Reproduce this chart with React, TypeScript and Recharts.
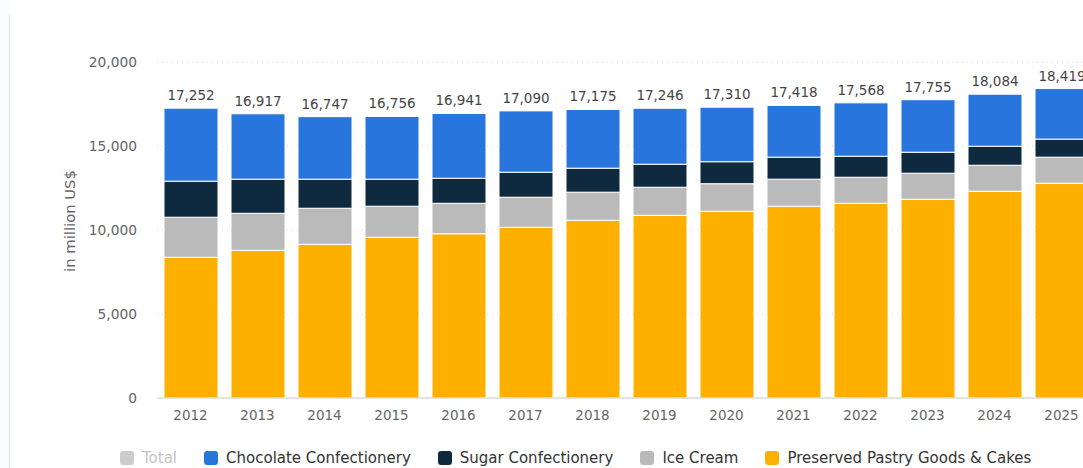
import React from "react";
import { BarChart, Bar, XAxis, YAxis, CartesianGrid, LabelList } from "recharts";

const years = ["2012", "2013", "2014", "2015", "2016", "2017", "2018", "2019", "2020", "2021", "2022", "2023", "2024", "2025"];
const totals = [17252, 16917, 16747, 16756, 16941, 17090, 17175, 17246, 17310, 17418, 17568, 17755, 18084, 18419];
const pastry = [8375, 8790, 9150, 9565, 9775, 10160, 10580, 10875, 11115, 11415, 11590, 11830, 12305, 12785];
const iceCream = [2385, 2205, 2145, 1850, 1815, 1790, 1670, 1670, 1640, 1610, 1550, 1550, 1550, 1550];
const sugar = [2145, 2030, 1730, 1610, 1490, 1490, 1430, 1370, 1310, 1310, 1250, 1250, 1130, 1075];
const chocolate = totals.map((t, i) => t - pastry[i] - iceCream[i] - sugar[i]);
const yTicks = [0, 5000, 10000, 15000, 20000];

const data = years.map((y, i) => ({
  year: y,
  total: totals[i],
  pastry: pastry[i],
  ice: iceCream[i],
  sugar: sugar[i],
  chocolate: chocolate[i],
}));

const COLORS = {
  chocolate: "#2876dd",
  sugar: "#0f2a3f",
  ice: "#bababa",
  pastry: "#fdb000",
  total: "#cccccc",
};

const legendItems = [
  { name: "Total", color: COLORS.total, text: "#c4c4c4" },
  { name: "Chocolate Confectionery", color: COLORS.chocolate, text: "#333" },
  { name: "Sugar Confectionery", color: COLORS.sugar, text: "#333" },
  { name: "Ice Cream", color: COLORS.ice, text: "#333" },
  { name: "Preserved Pastry Goods & Cakes", color: COLORS.pastry, text: "#333" },
];

const FONT = "'DejaVu Sans', sans-serif";

const fmt = (v: number) => v.toLocaleString("en-US");

const LegendBox = () => (
  <div
    style={{
      position: "absolute",
      left: 120,
      top: 449,
      display: "flex",
      alignItems: "center",
      fontFamily: FONT,
      fontSize: 15,
      lineHeight: "18px",
      whiteSpace: "nowrap",
    }}
  >
    {legendItems.map((it) => (
      <div key={it.name} style={{ display: "flex", alignItems: "center", marginRight: 27 }}>
        <span
          style={{
            display: "inline-block",
            width: 14,
            height: 14,
            borderRadius: 3,
            background: it.color,
            marginRight: 8,
          }}
        />
        <span style={{ color: it.text }}>{it.name}</span>
      </div>
    ))}
  </div>
);

const YLabel = () => (
  <text
    x={75}
    y={221}
    transform="rotate(-90 75 221)"
    textAnchor="middle"
    fill="#666"
    fontSize={14.8}
    fontFamily={FONT}
  >
    in million US$
  </text>
);

export default function App() {
  return (
    <div
      style={{
        position: "fixed",
        left: 0,
        top: 0,
        width: 1083,
        height: 468,
        overflow: "hidden",
        background: "#fff",
      }}
    >
      <div style={{ position: "absolute", left: 0, top: 0, width: 9, height: 468, background: "#fafbfc" }} />
      <div style={{ position: "absolute", left: 9, top: 14, width: 1, height: 454, background: "#e6e6e6" }} />
      <div style={{ position: "absolute", left: 0, top: 0 }}>
        <BarChart
          width={1100}
          height={468}
          data={data}
          margin={{ top: 62, right: 5, left: 0, bottom: 40 }}
          barSize={54}
        >
          <CartesianGrid vertical={false} stroke="#d6d6d6" strokeDasharray="1 4" />
          <XAxis
            dataKey="year"
            axisLine={{ stroke: "#cccccc" }}
            tickLine={false}
            tickSize={0}
            tickMargin={12}
            height={30}
            tick={{ fill: "#666", fontSize: 13.5, fontFamily: FONT }}
            interval={0}
          />
          <YAxis
            width={157}
            domain={[0, 20000]}
            ticks={yTicks}
            axisLine={false}
            tickLine={false}
            tickSize={0}
            tickMargin={20}
            tickFormatter={fmt}
            tick={{ fill: "#666", fontSize: 13.8, fontFamily: FONT }}
            label={<YLabel />}
          />
          <Bar dataKey="pastry" stackId="a" fill={COLORS.pastry} stroke="#fff" strokeWidth={1} isAnimationActive={false} />
          <Bar dataKey="ice" stackId="a" fill={COLORS.ice} stroke="#fff" strokeWidth={1} isAnimationActive={false} />
          <Bar dataKey="sugar" stackId="a" fill={COLORS.sugar} stroke="#fff" strokeWidth={1} isAnimationActive={false} />
          <Bar dataKey="chocolate" stackId="a" fill={COLORS.chocolate} stroke="#fff" strokeWidth={1} isAnimationActive={false}>
            <LabelList
              dataKey="total"
              position="top"
              offset={8}
              formatter={(v: any) => fmt(Number(v))}
              style={{ fill: "#444", fontSize: 13.5, fontFamily: FONT }}
            />
          </Bar>
        </BarChart>
      </div>
      <LegendBox />
    </div>
  );
}
